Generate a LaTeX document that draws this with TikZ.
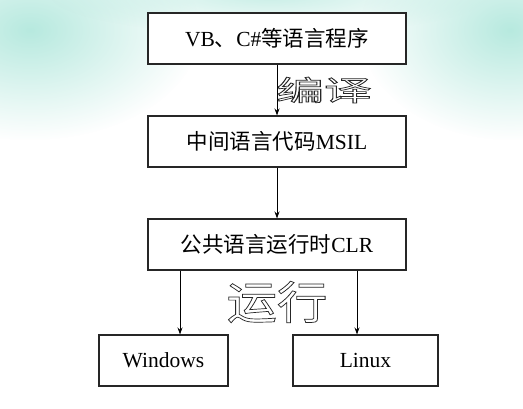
\documentclass[tikz,border=0pt]{standalone}
\usepackage{fontspec}
\setmainfont{Liberation Serif}
\newfontfamily\cjk{Noto Sans CJK SC}
\usetikzlibrary{arrows.meta,fadings}
\definecolor{mint}{RGB}{165,228,215}
\tikzfading[name=softfade, inner color=transparent!0, outer color=transparent!100]
\newcommand\hollowtext[1]{{\color{white}\special{pdf:literal direct 2 Tr 0.7 w 0.15 0.15 0.15 RG}#1\special{pdf:literal direct 0 Tr}}}
\tikzset{
  box/.style={draw=black!85,line width=1.1pt,fill=white,inner sep=0pt,font=\fontsize{21.5}{23}\selectfont},
  arr/.style={line width=0.9pt,-{Stealth[length=7pt,width=5pt]}},
  hollow/.style={inner sep=0pt}
}
\begin{document}
\begin{tikzpicture}[x=1pt,y=-1pt]
\useasboundingbox (0,0) rectangle (523,408);
\fill[white] (0,0) rectangle (523,408);
% background clouds
\fill[mint,path fading=softfade,opacity=0.8] (30,30) ellipse (170 and 110);
\fill[mint,path fading=softfade,opacity=0.6] (270,-5) ellipse (220 and 40);
\fill[mint,path fading=softfade,opacity=0.8] (510,30) ellipse (150 and 110);
% boxes
\node[box,minimum width=258pt,minimum height=51pt] (b1) at (277,38.5) {VB{\cjk 、}C\#{\cjk 等语言程序}};
\node[box,minimum width=258pt,minimum height=51pt] (b2) at (277,141.5) {{\cjk 中间语言代码}MSIL};
\node[box,minimum width=258pt,minimum height=51pt] (b3) at (277,244.5) {{\cjk 公共语言运行时}CLR};
\node[box,minimum width=129pt,minimum height=51pt] (win) at (163.5,360.5) {Windows};
\node[box,minimum width=145pt,minimum height=51pt] (lin) at (365.5,360.5) {Linux};
% arrows
\draw[arr] (b1.south) -- (b2.north);
\draw[arr] (b2.south) -- (b3.north);
\draw[arr] ([xshift=-97pt]b3.south) -- ([xshift=-97pt]b3.south |- win.north);
\draw[arr] ([xshift=80pt]b3.south) -- ([xshift=80pt]b3.south |- lin.north);
% hollow labels
\node[hollow,xscale=1.7,font=\fontsize{28}{30}\selectfont\cjk] (lab1) at (324,90) {\hollowtext{编译}};
\node[hollow,xscale=1.12,font=\fontsize{45}{47}\selectfont\cjk] (lab2) at (277,302) {\hollowtext{运行}};
\end{tikzpicture}
\end{document}
